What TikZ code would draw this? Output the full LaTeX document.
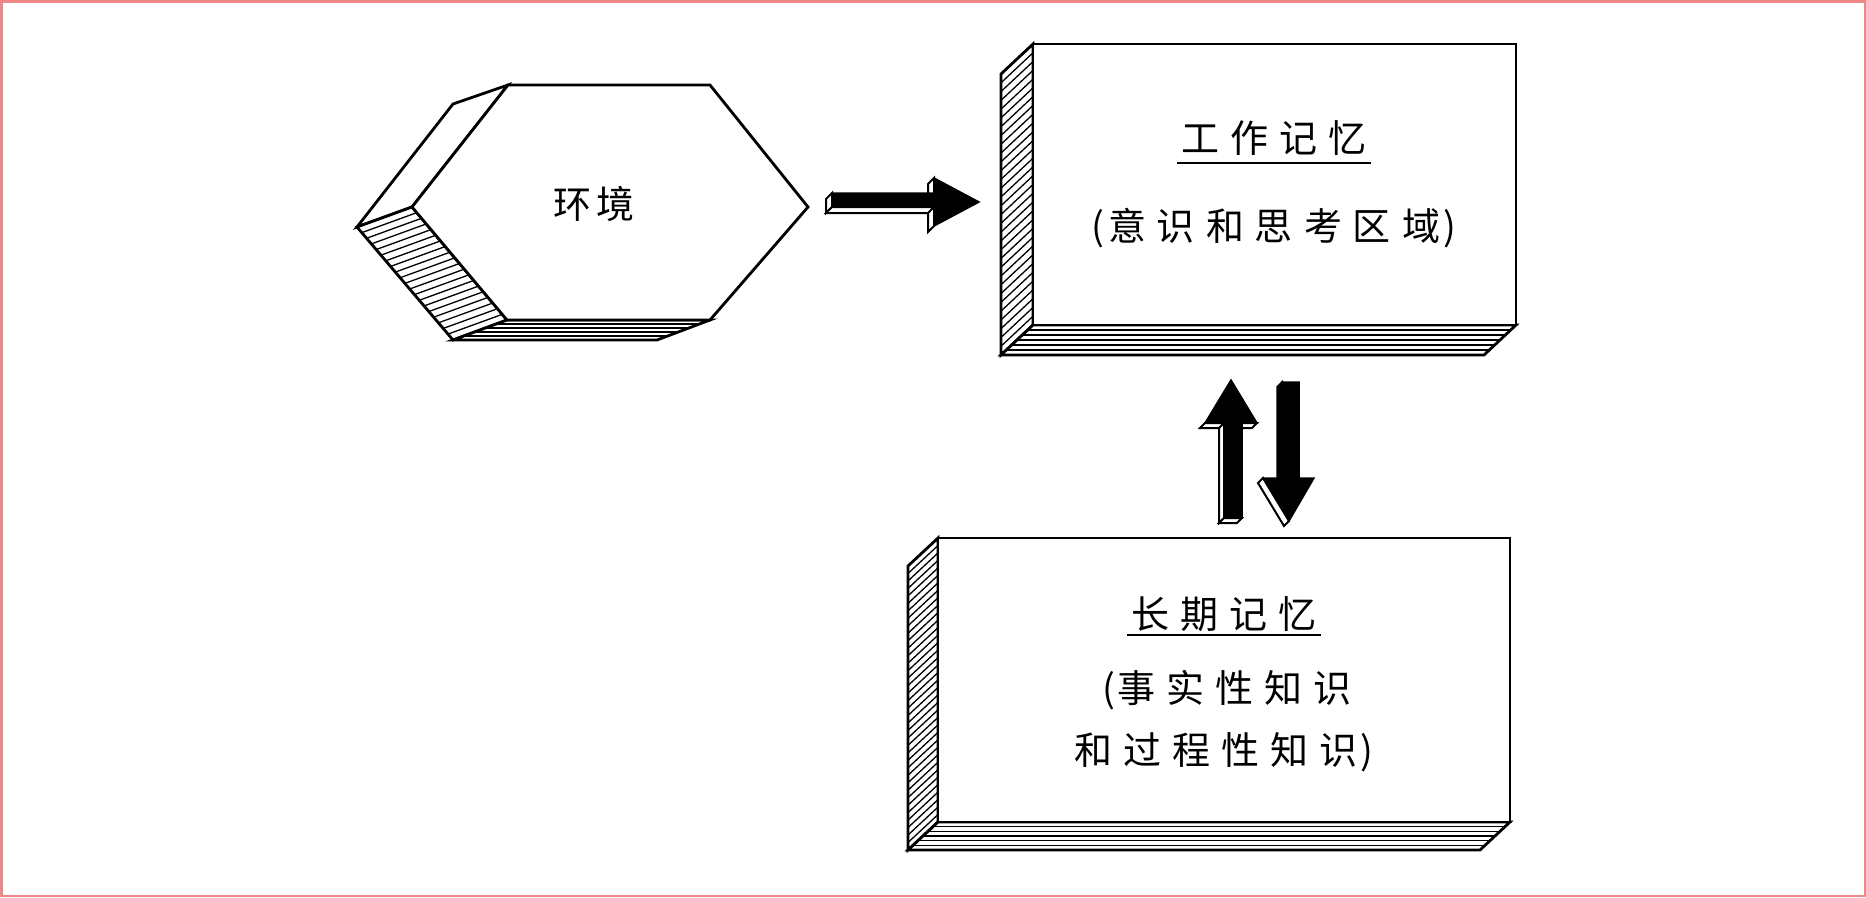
\documentclass[tikz,border=0pt]{standalone}
\usepackage{fontspec}
\usetikzlibrary{calc}
\newfontfamily\cjk{Noto Sans CJK SC}
\definecolor{framepink}{RGB}{240,135,135}
\tikzset{
  edge/.style={line width=2.8pt, line join=miter},
  hatch/.style={line width=1.3pt},
  face/.style={fill=white, draw=black, line width=2pt, line join=miter},
  solid face/.style={fill=black, draw=black, line width=1.5pt, line join=miter},
  lbl/.style={anchor=base, inner sep=0pt, font=\cjk\fontsize{38}{44}\selectfont},
}
\newcommand\kk{\kern11pt}
\begin{document}
\begin{tikzpicture}[x=1pt,y=-1pt]
\useasboundingbox (0,0) rectangle (1866,897);
\fill[white] (0,0) rectangle (1866,897);
\draw[framepink, line width=2.5pt] (1.25,1.25) rectangle (1864.75,895.75);

% ---------- hexagon (environment) ----------
\coordinate (hA) at (508,85);
\coordinate (hB) at (710,85);
\coordinate (hC) at (808,207);
\coordinate (hD) at (710,320);
\coordinate (hE) at (507,320);
\coordinate (hF) at (412,207);
\coordinate (hA2) at (453,104);
\coordinate (hF2) at (357,227);
\coordinate (hE2) at (453,340);
\coordinate (hD2) at (657,340);
\filldraw[fill=white, edge] (hA) -- (hF) -- (hF2) -- (hA2) -- cycle;
\filldraw[fill=white, edge] (hF) -- (hE) -- (hE2) -- (hF2) -- cycle;
\foreach \i in {1,...,19} \draw[hatch] ($(hF)!{\i/20}!(hE)$) -- ++(-55,20);
\filldraw[fill=white, edge] (hE) -- (hD) -- (hD2) -- (hE2) -- cycle;
\foreach \i in {1,...,4} \draw[hatch] ($(hE)!{\i/5}!(hE2)$) -- ++(203,0);
\filldraw[fill=white, edge] (hA) -- (hB) -- (hC) -- (hD) -- (hE) -- (hF) -- cycle;
\node[lbl] (env) at (594,218.5) {环\kern5pt境};

% ---------- working memory box ----------
\coordinate (wA) at (1033,44);
\coordinate (wB) at (1516,44);
\coordinate (wC) at (1516,325);
\coordinate (wD) at (1033,325);
\coordinate (wA2) at (1001,74);
\coordinate (wC2) at (1484,355);
\coordinate (wD2) at (1001,355);
\filldraw[fill=white, edge] (wA) -- (wD) -- (wD2) -- (wA2) -- cycle;
\foreach \i in {1,...,31} \draw[hatch] ($(wA)!{\i/32}!(wD)$) -- ++(-32,30);
\filldraw[fill=white, edge] (wD) -- (wC) -- (wC2) -- (wD2) -- cycle;
\foreach \i in {1,...,5} \draw[hatch] ($(wD)!{\i/6}!(wD2)$) -- ++(483,0);
\filldraw[fill=white, edge] (wA) rectangle (wC);
\node[lbl] (wmt) at (1274,152.5) {工\kk 作\kk 记\kk 忆};
\draw[line width=2pt] ($(wmt.base west)+(-4,10.5)$) -- ($(wmt.base east)+(4,10.5)$);
\node[lbl] (wmd) at (1274,240.5)
  {(\kern4pt意\kk 识\kk 和\kk 思\kk 考\kk 区\kk 域\kern4pt)};

% ---------- long-term memory box ----------
\coordinate (lA) at (938,538);
\coordinate (lB) at (1510,538);
\coordinate (lC) at (1510,822);
\coordinate (lD) at (938,822);
\coordinate (lA2) at (908,566);
\coordinate (lC2) at (1480,850);
\coordinate (lD2) at (908,850);
\filldraw[fill=white, edge] (lA) -- (lD) -- (lD2) -- (lA2) -- cycle;
\foreach \i in {1,...,37} \draw[hatch] ($(lA)!{\i/38}!(lD)$) -- ++(-30,28);
\filldraw[fill=white, edge] (lD) -- (lC) -- (lC2) -- (lD2) -- cycle;
\foreach \i in {1,...,5} \draw[hatch] ($(lD)!{\i/6}!(lD2)$) -- ++(572,0);
\filldraw[fill=white, edge] (lA) rectangle (lC);
\node[lbl] (ltt) at (1224,628.5) {长\kk 期\kk 记\kk 忆};
\draw[line width=2pt] ($(ltt.base west)+(-4,6)$) -- ($(ltt.base east)+(4,6)$);
\node[lbl] (ltd1) at (1227,702.5) {(\kern3pt事\kk 实\kk 性\kk 知\kk 识};
\node[lbl] (ltd2) at (1224,764.5) {和\kk 过\kk 程\kk 性\kk 知\kk 识\kern3pt)};

% ---------- right arrow ----------
\draw[face] (934,178) -- (934,226) -- (928,232) -- (928,184) -- cycle;
\draw[face] (832,193) -- (832,207) -- (826,213) -- (826,199) -- cycle;
\draw[face] (832,207) -- (934,207) -- (928,213) -- (826,213) -- cycle;
\draw[solid face] (832,193) -- (934,193) -- (934,178) -- (979,202) -- (934,226) -- (934,207) -- (832,207) -- cycle;

% ---------- up arrow ----------
\draw[face] (1205,423) -- (1257,423) -- (1252,428) -- (1200,428) -- cycle;
\draw[face] (1224,423) -- (1224,518) -- (1219,523) -- (1219,428) -- cycle;
\draw[face] (1224,518) -- (1242,518) -- (1237,523) -- (1219,523) -- cycle;
\draw[solid face] (1224,518) -- (1224,423) -- (1205,423) -- (1231,380) -- (1257,423) -- (1242,423) -- (1242,518) -- cycle;

% ---------- down arrow ----------
\draw[solid face] (1282,382) -- (1282,478) -- (1277,483) -- (1277,387) -- cycle;
\draw[face] (1263,478) -- (1289,521) -- (1284,526) -- (1258,483) -- cycle;
\draw[solid face] (1282,382) -- (1299,382) -- (1299,478) -- (1314,478) -- (1289,521) -- (1263,478) -- (1282,478) -- cycle;
\end{tikzpicture}
\end{document}
